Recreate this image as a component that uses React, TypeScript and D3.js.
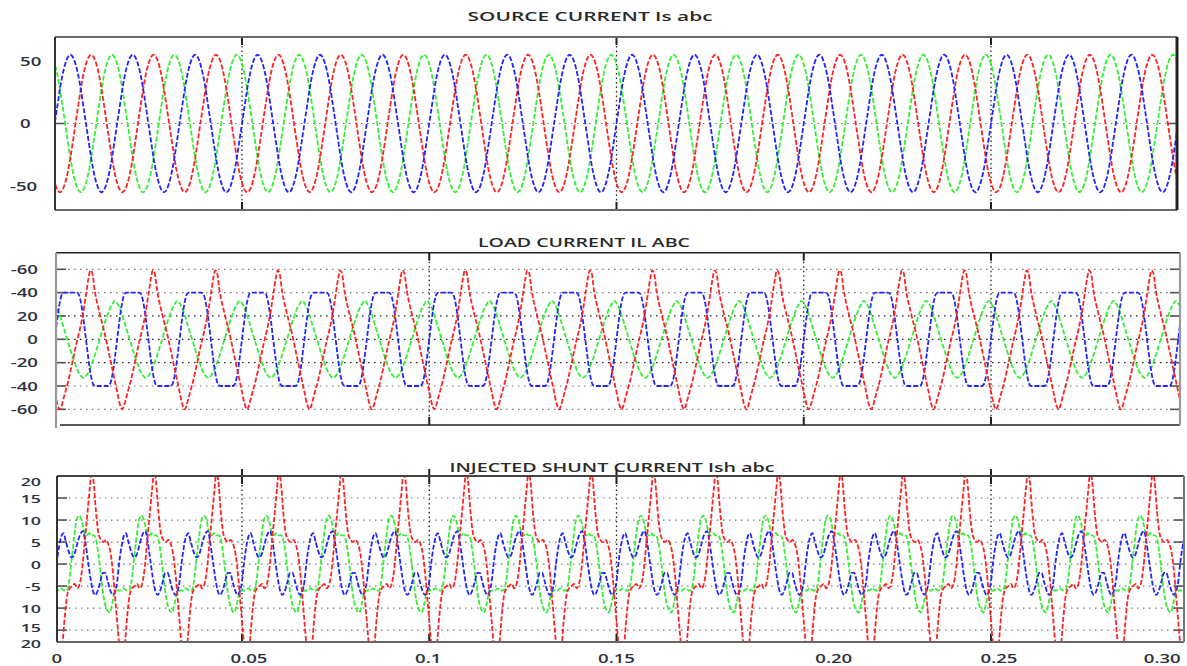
import React from "react";
import * as d3 from "d3";

// ---------------- data ----------------
const FREQ_HZ = 60;
const T_END = 0.3;

const X_TICKS = [0, 0.05, 0.1, 0.15, 0.2, 0.25, 0.3];
const X_TICK_LABELS = ["0", "0.05", "0.1", "0.15", "0.20", "0.25", "0.30"];

const TITLES = ["SOURCE CURRENT Is abc", "LOAD CURRENT IL ABC", "INJECTED SHUNT CURRENT Ish abc"];

const P1_Y_TICKS = [50, 0, -50];
const P1_Y_LABELS = ["50", "0", "-50"];
const P2_Y_TICKS = [60, 40, 20, 0, -20, -40, -60];
const P2_Y_LABELS = ["-60", "-40", "20", "0", "-20", "-40", "-60"];
const P3_Y_TICKS = [20, 15, 10, 5, 0, -5, -10, -15, -20];
const P3_Y_LABELS = ["20", "15", "10", "5", "0", "-5", "10", "15", "20"];

const P1_VGRID = [0.05, 0.15, 0.25];
const P2_VGRID = [0.1, 0.2, 0.25];
const P3_VGRID = [0.05, 0.1, 0.15, 0.25];

// one cycle of each phase: [fraction of the 60 Hz cycle, amps]
const SRC_BLUE: [number, number][] = [
  [0, 0], [0.042, 14], [0.083, 27.5], [0.125, 39], [0.167, 47.5], [0.208, 53], [0.25, 55],
  [0.292, 53], [0.333, 47.5], [0.375, 39], [0.417, 27.5], [0.458, 14], [0.5, 0],
  [0.542, -14], [0.583, -27.5], [0.625, -39], [0.667, -47.5], [0.708, -53], [0.75, -55],
  [0.792, -53], [0.833, -47.5], [0.875, -39], [0.917, -27.5], [0.958, -14],
];
const SRC_RED: [number, number][] = [
  [0, -47.5], [0.042, -53], [0.083, -55], [0.125, -53], [0.167, -47.5], [0.208, -39], [0.25, -27.5],
  [0.292, -14], [0.333, 0], [0.375, 14], [0.417, 27.5], [0.458, 39], [0.5, 47.5],
  [0.542, 53], [0.583, 55], [0.625, 53], [0.667, 47.5], [0.708, 39], [0.75, 27.5],
  [0.792, 14], [0.833, 0], [0.875, -14], [0.917, -27.5], [0.958, -39],
];
const SRC_GREEN: [number, number][] = [
  [0, 47.5], [0.042, 39], [0.083, 27.5], [0.125, 14], [0.167, 0], [0.208, -14], [0.25, -27.5],
  [0.292, -39], [0.333, -47.5], [0.375, -53], [0.417, -55], [0.458, -53], [0.5, -47.5],
  [0.542, -39], [0.583, -27.5], [0.625, -14], [0.667, 0], [0.708, 14], [0.75, 27.5],
  [0.792, 39], [0.833, 47.5], [0.875, 53], [0.917, 55], [0.958, 53],
];

const LOAD_RED: [number, number][] = [
  [0, -45], [0.04, -55], [0.08, -60], [0.11, -57], [0.14, -51], [0.17, -45], [0.22, -35],
  [0.29, -18], [0.35, -3], [0.4, 8], [0.45, 21], [0.5, 38], [0.54, 52], [0.57, 59],
  [0.6, 57], [0.64, 42], [0.72, 22], [0.8, 5], [0.88, -15], [0.96, -35],
];
const LOAD_BLUE: [number, number][] = [
  [0, 0], [0.03, 13], [0.06, 25], [0.09, 34], [0.12, 39], [0.15, 40], [0.25, 40], [0.35, 40],
  [0.38, 39], [0.41, 34], [0.44, 25], [0.47, 13], [0.5, 0], [0.53, -13], [0.56, -25],
  [0.59, -34], [0.62, -39], [0.65, -40], [0.75, -40], [0.85, -40], [0.88, -39], [0.91, -34],
  [0.94, -25], [0.97, -13],
];
const LOAD_GREEN: [number, number][] = [
  [0, 31], [0.04, 27], [0.08, 21], [0.12, 14], [0.16, 7], [0.2, 0], [0.24, -7], [0.28, -14],
  [0.32, -20], [0.36, -26], [0.4, -30], [0.43, -32], [0.46, -33], [0.49, -32], [0.52, -30],
  [0.56, -26], [0.6, -20], [0.64, -14], [0.68, -7], [0.72, 0], [0.76, 7], [0.8, 14],
  [0.84, 20], [0.88, 26], [0.92, 30], [0.96, 33], [0.99, 32],
];

const SHUNT_RED: [number, number][] = [
  [0, -13], [0.03, -18], [0.06, -22], [0.09, -23], [0.12, -19], [0.16, -12], [0.2, -7],
  [0.24, -5.5], [0.28, -5], [0.32, -4.5], [0.36, -5.5], [0.4, -4.5], [0.44, -1], [0.48, 5],
  [0.52, 11], [0.56, 17], [0.59, 21], [0.62, 19], [0.66, 12], [0.7, 7], [0.74, 5.5],
  [0.78, 5], [0.82, 5.5], [0.86, 4.5], [0.9, 2], [0.94, -3], [0.97, -8],
];
const SHUNT_BLUE: [number, number][] = [
  [0, -4], [0.03, 0], [0.07, 4], [0.11, 6.5], [0.14, 7], [0.18, 5], [0.22, 3], [0.27, 1.5],
  [0.31, 2], [0.35, 4], [0.4, 6.5], [0.45, 7.5], [0.49, 5], [0.53, 1], [0.57, -3],
  [0.61, -6], [0.65, -7], [0.69, -6], [0.73, -4], [0.77, -2], [0.81, -2], [0.85, -4],
  [0.89, -6], [0.93, -7], [0.97, -6],
];
const SHUNT_GREEN: [number, number][] = [
  [0, -6], [0.05, -6], [0.1, -5.5], [0.15, -6], [0.19, -6], [0.23, -4], [0.27, 1], [0.31, 6],
  [0.35, 10], [0.39, 11], [0.43, 10], [0.47, 7.5], [0.51, 6.5], [0.55, 7], [0.59, 6.5],
  [0.63, 6.5], [0.67, 5], [0.71, 1], [0.75, -4], [0.79, -8], [0.84, -10.5], [0.88, -11],
  [0.92, -9], [0.96, -6.5],
];

// ---------------- layout & style ----------------
const W = 1187;
const H = 666;
const RED = "#ff2424";
const BLUE = "#2424ff";
const GREEN = "#33f033";
const LABEL_COLOR = "#2e3140";
const X_LABEL_NUDGE = [2, 7, -1, 0, 30, 8, -16];

const xScale = d3.scaleLinear().domain([0, T_END]).range([54.75, 1178.25]);

type Panel = {
  title: string;
  titleX: number;
  titleY: number;
  titleW: number;
  top: number;
  bottom: number;
  left: number;
  right: number;
  yDomain: [number, number];
  yTicks: number[];
  yLabels: string[];
  labelX: number;
  labelAnchor: "start" | "end";
  hGrid: number[];
  vGrid: number[];
  series: { data: [number, number][]; color: string }[];
};

const PANELS: Panel[] = [
  {
    title: TITLES[0], titleX: 590, titleY: 16, titleW: 245,
    top: 37, bottom: 210, left: 55, right: 1177,
    yDomain: [-69.2, 69.2], yTicks: P1_Y_TICKS, yLabels: P1_Y_LABELS,
    labelX: 20, labelAnchor: "start", hGrid: [0], vGrid: P1_VGRID,
    series: [
      { data: SRC_GREEN, color: GREEN },
      { data: SRC_RED, color: RED },
      { data: SRC_BLUE, color: BLUE },
    ],
  },
  {
    title: TITLES[1], titleX: 584, titleY: 242, titleW: 212,
    top: 252.7, bottom: 425, left: 56, right: 1180,
    yDomain: [-73.4, 74.2], yTicks: P2_Y_TICKS, yLabels: P2_Y_LABELS,
    labelX: 38, labelAnchor: "end", hGrid: P2_Y_TICKS, vGrid: P2_VGRID,
    series: [
      { data: LOAD_GREEN, color: GREEN },
      { data: LOAD_BLUE, color: BLUE },
      { data: LOAD_RED, color: RED },
    ],
  },
  {
    title: TITLES[2], titleX: 612, titleY: 467, titleW: 325,
    top: 476, bottom: 642, left: 57, right: 1184,
    yDomain: [-17.7, 20], yTicks: P3_Y_TICKS, yLabels: P3_Y_LABELS,
    labelX: 41, labelAnchor: "end", hGrid: [15, 10, 5, 0, -5, -10, -15], vGrid: P3_VGRID,
    series: [
      { data: SHUNT_GREEN, color: GREEN },
      { data: SHUNT_BLUE, color: BLUE },
      { data: SHUNT_RED, color: RED },
    ],
  },
];

function tile(cycle: [number, number][], tEnd: number): [number, number][] {
  const pts: [number, number][] = [];
  const n = Math.ceil(tEnd * FREQ_HZ) + 1;
  for (let k = -1; k <= n; k++) {
    for (const [u, v] of cycle) {
      const t = (k + u) / FREQ_HZ;
      if (t >= -0.02 && t <= tEnd + 0.02) pts.push([t, v]);
    }
  }
  return pts;
}

const labelFont = "'Open Sans', 'DejaVu Sans', sans-serif";

function PanelView({ p, idx }: { p: Panel; idx: number }) {
  const y = d3.scaleLinear().domain(p.yDomain).range([p.bottom, p.top]);
  const tEnd = xScale.invert(p.right);
  const line = d3
    .line<[number, number]>()
    .x((d) => xScale(d[0]))
    .y((d) => y(d[1]))
    .curve(d3.curveMonotoneX);
  const clipId = `clip-${idx}`;
  const gridColor = "#555";
  const n = p.yTicks.length;
  return (
    <g>
      <defs>
        <clipPath id={clipId}>
          <rect x={p.left} y={p.top} width={p.right - p.left} height={p.bottom - p.top} />
        </clipPath>
      </defs>
      <text
        x={p.titleX - p.titleW / 2}
        y={p.titleY}
        dominantBaseline="central"
        textLength={p.titleW}
        lengthAdjust="spacingAndGlyphs"
        fontFamily={labelFont}
        fontSize={12.5}
        fontWeight={600}
        fill="#2a2a2a"
      >
        {p.title}
      </text>
      {/* horizontal grid */}
      {p.hGrid.map((v, i) => (
        <line
          key={`h${i}`}
          x1={p.left}
          x2={p.right}
          y1={y(v)}
          y2={y(v)}
          stroke={Math.abs(v) <= 20 && idx === 1 ? "#222" : "#777"}
          strokeWidth={1.2}
          strokeDasharray="1.5 4.5"
        />
      ))}
      {/* vertical grid */}
      {p.vGrid.map((t, i) => (
        <g key={`v${i}`}>
          <line x1={xScale(t)} x2={xScale(t)} y1={p.top} y2={p.bottom} stroke="#222" strokeWidth={1.3} strokeDasharray="1.5 3" />
          <line x1={xScale(t)} x2={xScale(t)} y1={idx === 2 ? p.top - 7 : p.top} y2={p.top + 8} stroke="#222" strokeWidth={2} />
          <line x1={xScale(t)} x2={xScale(t)} y1={p.bottom - 8} y2={p.bottom} stroke="#222" strokeWidth={2} />
        </g>
      ))}
      {/* side ticks */}
      {p.hGrid.map((v, i) => (
        <g key={`t${i}`}>
          <line x1={p.left} x2={p.left + 10} y1={y(v)} y2={y(v)} stroke={gridColor} strokeWidth={1.6} />
          <line x1={p.right - 10} x2={p.right} y1={y(v)} y2={y(v)} stroke={gridColor} strokeWidth={1.6} />
        </g>
      ))}
      {/* waveforms */}
      <g clipPath={`url(#${clipId})`}>
        {p.series.map((s, i) => (
          <path
            key={i}
            d={line(tile(s.data, tEnd)) || ""}
            fill="none"
            stroke={s.color}
            strokeWidth={1.8}
            strokeDasharray="5 2"
          />
        ))}
      </g>
      {/* frame */}
      {idx === 0 && (
        <g>
          <line x1={p.left} x2={p.right} y1={p.top} y2={p.top} stroke="#6a6a6a" strokeWidth={2} />
          <line x1={p.left} x2={p.right} y1={p.bottom} y2={p.bottom} stroke="#6a6a6a" strokeWidth={2} />
          <line x1={p.left} x2={p.left} y1={p.top} y2={p.bottom} stroke="#333" strokeWidth={2} />
          <line x1={p.right} x2={p.right} y1={p.top} y2={p.bottom} stroke="#222" strokeWidth={3} />
        </g>
      )}
      {idx === 1 && (
        <g>
          <line x1={p.left} x2={p.right} y1={p.top} y2={p.top} stroke="#222" strokeWidth={1.5} />
          <line x1={p.left + 4} x2={p.right} y1={p.bottom} y2={p.bottom} stroke="#222" strokeWidth={1.5} />
          <line x1={p.left} x2={p.left} y1={p.top} y2={p.bottom + 3} stroke="#9a9a9a" strokeWidth={2.2} />
          <line x1={p.right} x2={p.right} y1={p.top} y2={p.bottom} stroke="#9a9a9a" strokeWidth={2.2} />
        </g>
      )}
      {idx === 2 && (
        <g>
          <line x1={p.left} x2={p.right} y1={p.top} y2={p.top} stroke="#444" strokeWidth={2} />
          <line x1={p.left} x2={p.right} y1={p.bottom} y2={p.bottom} stroke="#666" strokeWidth={2} />
          <line x1={p.left} x2={p.left} y1={p.top} y2={p.bottom} stroke="#333" strokeWidth={2} />
          <line x1={p.right} x2={p.right} y1={p.top} y2={p.bottom} stroke="#777" strokeWidth={2} />
        </g>
      )}
      {/* y labels */}
      {p.yTicks.map((v, i) => {
        let yy = Math.max(p.top + 5, Math.min(p.bottom + 1, y(v)));
        yy = Math.min(yy, p.bottom + 1 - (n - 1 - i) * 16);
        const neg = p.yLabels[i].startsWith("-") && p.labelAnchor === "start";
        return (
          <text
            key={`yl${i}`}
            transform={`translate(${p.labelX - (neg ? 10 : 0)},${yy}) scale(1.55,1)`}
            textAnchor={p.labelAnchor}
            dominantBaseline="central"
            fontFamily={labelFont}
            fontWeight={600}
            fontSize={idx === 2 ? 11.5 : 12}
            fill={LABEL_COLOR}
          >
            {p.yLabels[i]}
          </text>
        );
      })}
    </g>
  );
}

export default function App() {
  return (
    <svg
      width={W}
      height={H}
      viewBox={`0 0 ${W} ${H}`}
      style={{ position: "absolute", left: 0, top: 0, background: "#fff" }}
    >
      <rect x={0} y={0} width={W} height={H} fill="#fff" />
      {PANELS.map((p, i) => (
        <PanelView key={i} p={p} idx={i} />
      ))}
      {X_TICKS.map((t, i) => (
        <text
          key={`xl${i}`}
          transform={`translate(${xScale(t) + X_LABEL_NUDGE[i]},658) scale(1.55,1)`}
          textAnchor="middle"
          dominantBaseline="central"
          fontFamily={labelFont}
          fontWeight={600}
          fontSize={12}
          fill={LABEL_COLOR}
        >
          {X_TICK_LABELS[i]}
        </text>
      ))}
    </svg>
  );
}
